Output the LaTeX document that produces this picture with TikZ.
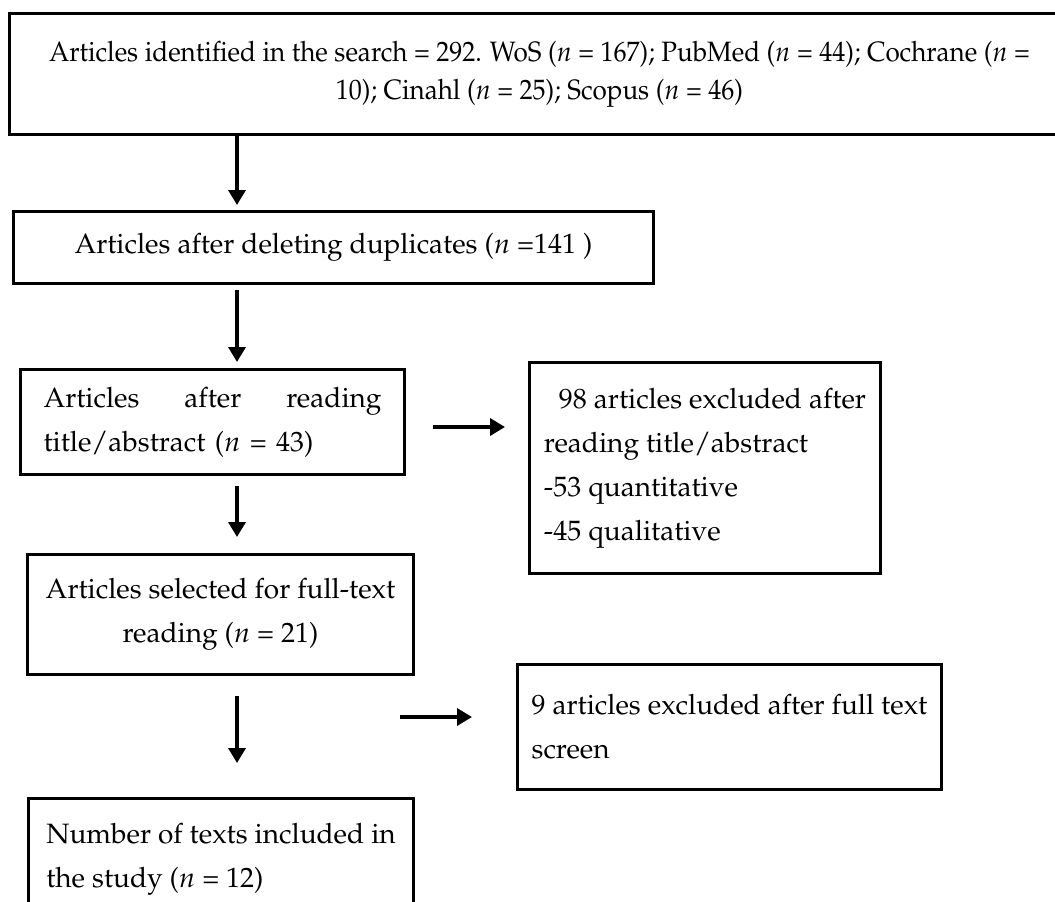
\documentclass[tikz,border=0pt]{standalone}
\usepackage[T1]{fontenc}
\usepackage{mathpazo}
\usetikzlibrary{arrows.meta, positioning}

\begin{document}
\begin{tikzpicture}[x=1pt, y=-1pt,
    box/.style={draw, line width=3pt, rectangle, inner sep=0pt, anchor=north west,
        font=\fontsize{28}{44}\selectfont},
    flow/.style={line width=3.5pt, -{Triangle[width=17pt, length=15pt]}}]

    % --- Canvas ---
    \clip (0,0) rectangle (1055,902);
    \fill[white] (0,0) rectangle (1055,902);

    % --- Main column ---
    \node[box, minimum width=1060pt, minimum height=121pt, align=center,
          font=\fontsize{28}{38}\selectfont] (search) at (8,12)
        {\scalebox{0.93}[1]{Articles identified in the search = 292. WoS ($n$ = 167); PubMed ($n$ = 44); Cochrane ($n$ =}\\
         \scalebox{0.93}[1]{10); Cinahl ($n$ = 25); Scopus ($n$ = 46)}};

    \node[box, minimum width=640pt, minimum height=72pt] (dup) at (12,210)
        {Articles after deleting duplicates ($n$ =141 )};

    \node[box, minimum width=384pt, minimum height=105pt, text width=338pt, align=left] (title) at (19,368)
        {Articles\hfill after\hfill reading\\ title/abstract ($n$ = 43)};

    \node[box, minimum width=386pt, minimum height=120pt, align=center] (full) at (26,553)
        {Articles selected for full-text\\ reading ($n$ = 21)};

    \node[box, minimum width=385pt, minimum height=122pt, align=left] (study) at (27,797)
        {Number of texts included in\\ the study ($n$ = 12)};

    % --- Exclusion boxes ---
    \node[box, minimum width=351pt, minimum height=211pt, align=left] (excl) at (528,361)
        {\hspace{15pt}98 articles excluded after\\ reading title/abstract\\ -53 quantitative\\ -45 qualitative};

    \node[box, minimum width=424pt, minimum height=125pt, align=left] (screen) at (516,663)
        {9 articles excluded after full text\\ screen};

    % --- Arrows ---
    \coordinate (spine) at (237,0);
    \coordinate (side1) at (433,427);
    \coordinate (side2) at (400,717);

    \draw[flow, shorten >=5pt] (search.south -| spine) -- (dup.north -| spine);
    \draw[flow, shorten <=5pt, shorten >=6pt] (dup.south -| spine) -- (title.north -| spine);
    \draw[flow, shorten <=10pt, shorten >=16pt] (title.south -| spine) -- (full.north -| spine);
    \draw[flow, shorten <=20pt, shorten >=34pt] (full.south -| spine) -- (study.north -| spine);

    \draw[flow, shorten >=23pt] (side1) -- (excl.west |- side1);
    \draw[flow, shorten >=44pt] (side2) -- (screen.west |- side2);

\end{tikzpicture}
\end{document}
